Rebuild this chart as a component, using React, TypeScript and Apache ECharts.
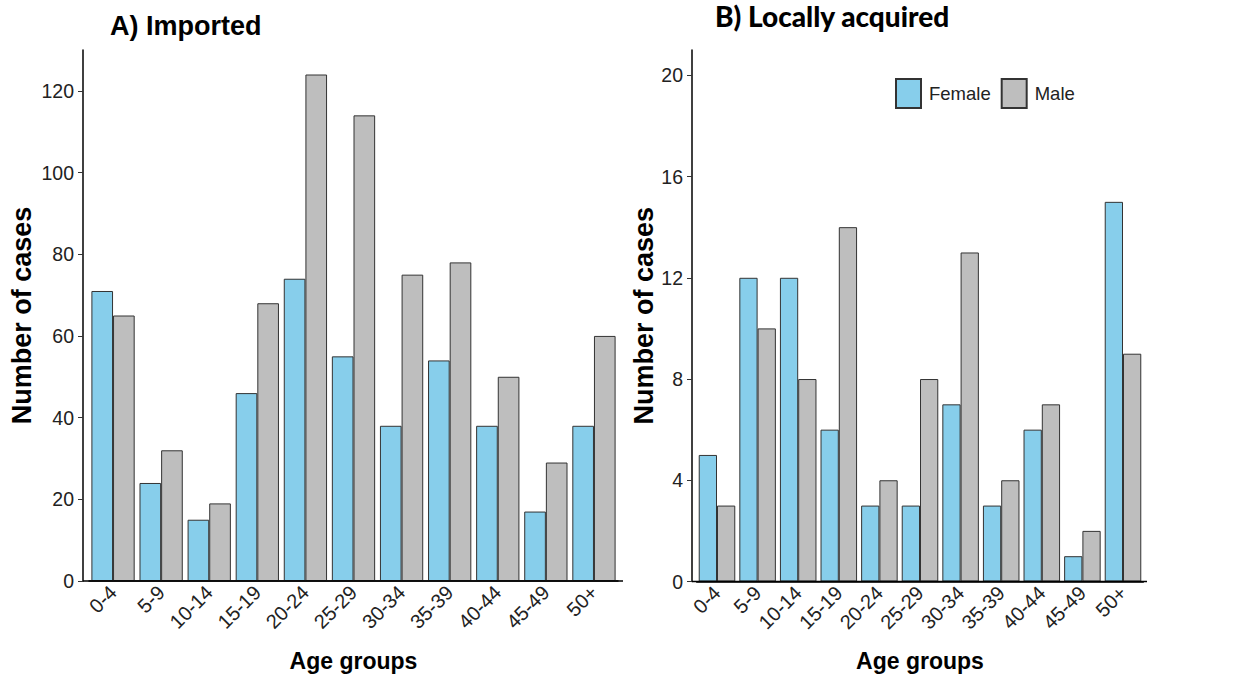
import React, { useEffect, useRef } from "react";
import * as echarts from "echarts";

const ageGroups = ["0-4", "5-9", "10-14", "15-19", "20-24", "25-29", "30-34", "35-39", "40-44", "45-49", "50+"];
const importedFemale = [71, 24, 15, 46, 74, 55, 38, 54, 38, 17, 38];
const importedMale = [65, 32, 19, 68, 124, 114, 75, 78, 50, 29, 60];
const localFemale = [5, 12, 12, 6, 3, 3, 7, 3, 6, 1, 15];
const localMale = [3, 10, 8, 14, 4, 8, 13, 4, 7, 2, 9];

const FEMALE = "#87CEEB";
const MALE = "#BEBEBE";
const BORDER = "#333333";
const FONT = "Arial";

export default function App() {
  const ref = useRef<HTMLDivElement>(null);
  useEffect(() => {
    document.body.style.margin = "0";
    const chart = echarts.init(ref.current!, null, { renderer: "svg" });
    const xAxisBase = (gridIndex: number) => ({
      type: "category" as const,
      gridIndex,
      data: ageGroups,
      name: "Age groups",
      nameLocation: "middle" as const,
      nameGap: 68,
      nameTextStyle: { fontFamily: FONT, fontSize: 23, fontWeight: "bold", color: "#000" },
      axisLine: { lineStyle: { color: "#000", width: 1.5 } },
      axisTick: { alignWithLabel: true, length: 5, lineStyle: { color: "#333", width: 1 } },
      axisLabel: { rotate: 45, fontFamily: FONT, fontSize: 20, color: "#222", margin: 8, interval: 0 },
      splitLine: { show: false },
    });
    const yAxisBase = (gridIndex: number, max: number, interval: number, nameGap: number, offset: number) => ({
      type: "value" as const,
      gridIndex,
      min: 0,
      max,
      interval,
      offset,
      name: "Number of cases",
      nameLocation: "middle" as const,
      nameGap,
      nameRotate: 90,
      nameTextStyle: { fontFamily: FONT, fontSize: 27, fontWeight: "bold", color: "#000" },
      axisLine: { show: true, lineStyle: { color: "#000", width: 1.5 } },
      axisTick: { show: true, length: 5, lineStyle: { color: "#333", width: 1 } },
      axisLabel: {
        fontFamily: FONT,
        fontSize: 19.5,
        color: "#222",
        margin: 9,
        showMaxLabel: false,
        formatter: (v: number) => (v % interval === 0 && v <= max - 1 ? String(v) : ""),
      },
      splitLine: { show: false },
    });
    const barStyle = (color: string) => ({ color, borderColor: BORDER, borderWidth: 1 });
    chart.setOption({
      animation: false,
      title: [
        {
          text: "A) Imported",
          left: 105,
          top: 7,
          textStyle: { fontFamily: FONT, fontSize: 27, fontWeight: "bold", color: "#000" },
        },
        {
          text: "B) Locally acquired",
          left: 710,
          top: -3,
          textStyle: { fontFamily: "Lato", fontSize: 28, fontWeight: 900, color: "#000" },
        },
      ],
      legend: {
        data: ["Female", "Male"],
        left: 890,
        top: 73,
        icon: "rect",
        itemWidth: 25,
        itemHeight: 29,
        itemGap: 10,
        textStyle: { fontFamily: FONT, fontSize: 18.5, color: "#222", padding: [0, 0, 0, 3] },
      },
      grid: [
        { left: 89, top: 50, width: 529, height: 531 },
        { left: 696.7, top: 50, width: 446.6, height: 531.5 },
      ],
      xAxis: [xAxisBase(0), xAxisBase(1)],
      yAxis: [yAxisBase(0, 130, 20, 48, 6), yAxisBase(1, 21, 4, 33, 4.7)],
      series: [
        { name: "Female", type: "bar", xAxisIndex: 0, yAxisIndex: 0, data: importedFemale, itemStyle: barStyle(FEMALE), barGap: "0%", barCategoryGap: "10%" },
        { name: "Male", type: "bar", xAxisIndex: 0, yAxisIndex: 0, data: importedMale, itemStyle: barStyle(MALE), barGap: "0%", barCategoryGap: "10%" },
        { name: "Female", type: "bar", xAxisIndex: 1, yAxisIndex: 1, data: localFemale, itemStyle: barStyle(FEMALE), barGap: "0%", barCategoryGap: "10%" },
        { name: "Male", type: "bar", xAxisIndex: 1, yAxisIndex: 1, data: localMale, itemStyle: barStyle(MALE), barGap: "0%", barCategoryGap: "10%" },
      ],
      graphic: [
        { type: "line", shape: { x1: 83, y1: 581, x2: 623, y2: 581 }, style: { stroke: "#000", lineWidth: 1.5 }, z: 10 },
        { type: "line", shape: { x1: 692, y1: 581.5, x2: 1147, y2: 581.5 }, style: { stroke: "#000", lineWidth: 1.5 }, z: 10 },
      ],
    });
    return () => chart.dispose();
  }, []);
  return <div ref={ref} style={{ width: 1241, height: 679 }} />;
}
